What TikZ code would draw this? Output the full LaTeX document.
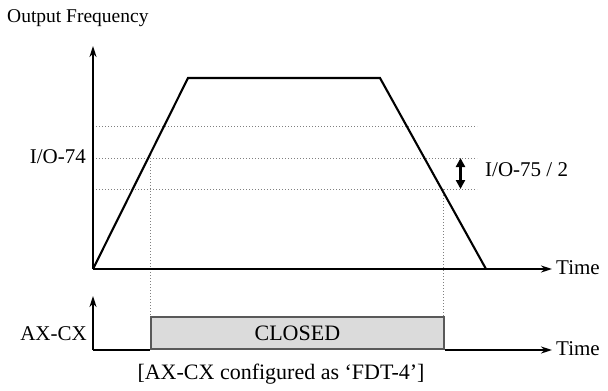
\documentclass[tikz,border=0pt]{standalone}
\usepackage{fontspec}
\setmainfont{Liberation Serif}
\usetikzlibrary{arrows.meta}
\begin{document}
\begin{tikzpicture}[x=1pt,y=-1pt,
  axis/.style={line width=2.2pt,-{Stealth[length=11pt,width=7pt]}},
  curve/.style={line width=2.1pt,line join=miter},
  guide/.style={line width=1pt,gray,dotted},
  lbl/.style={font=\fontsize{21}{23}\selectfont,inner sep=0pt},
  closedbox/.style={draw=black!65,line width=1.8pt,fill=black!14}]
\useasboundingbox (0,0) rectangle (608,391);
% coordinates
\coordinate (o) at (93,269);
\coordinate (ytip) at (93,46);
\coordinate (xtip) at (552,269);
\coordinate (p1) at (188,78);
\coordinate (p2) at (380,78);
\coordinate (p3) at (486,269);
\coordinate (g1a) at (93,126); \coordinate (g1b) at (477,126);
\coordinate (g2a) at (93,158); \coordinate (g2b) at (477,158);
\coordinate (g3a) at (93,189); \coordinate (g3b) at (477,189);
\coordinate (v1a) at (150,158);
\coordinate (v2a) at (443,189);
\coordinate (da) at (460.5,158);
\coordinate (db) at (460.5,189);
\coordinate (o2) at (93,350);
\coordinate (y2tip) at (93,296);
\coordinate (x2tip) at (552,350);
% guides
\draw[guide] (g1a) -- (g1b);
\draw[guide] (g2a) -- (g2b);
\draw[guide] (g3a) -- (g3b);
% box
\node[closedbox,minimum width=293pt,minimum height=32pt,anchor=south west,inner sep=0pt,
  font=\fontsize{22}{24}\selectfont] (box) at (150,350) {CLOSED};
\draw[guide] (v1a) -- (v1a |- box.north);
\draw[guide] (v2a) -- (v2a |- box.north);
% axes
\draw[axis] (o) -- (ytip);
\draw[axis] (o) -- (xtip);
\draw[curve] (o) -- (p1) -- (p2) -- (p3);
\draw[axis] (o2) -- (y2tip);
\draw[line width=2.1pt] (o2) -- (box.south west);
\draw[axis] (box.south east) -- (x2tip);
\draw[line width=2.6pt,{Triangle[length=9pt,width=9pt]}-{Triangle[length=9pt,width=9pt]}] (da) -- (db);
% labels
\node[lbl,anchor=west,font=\fontsize{19.5}{22}\selectfont] (of) at (7,18) {Output Frequency};
\node[lbl,anchor=east] (i74) at (86,157) {I/O-74};
\node[lbl,anchor=west] (i75) at (485,170) {I/O-75 / 2};
\node[lbl,anchor=west] (t1) at (556,268) {Time};
\node[lbl,anchor=west] (t2) at (556,349) {Time};
\node[lbl,anchor=east] (ax) at (87,334) {AX-CX};
\node[lbl,font=\fontsize{22}{24}\selectfont] (cap) at (281,374) {[AX-CX configured as ‘FDT-4’]};
\end{tikzpicture}
\end{document}
